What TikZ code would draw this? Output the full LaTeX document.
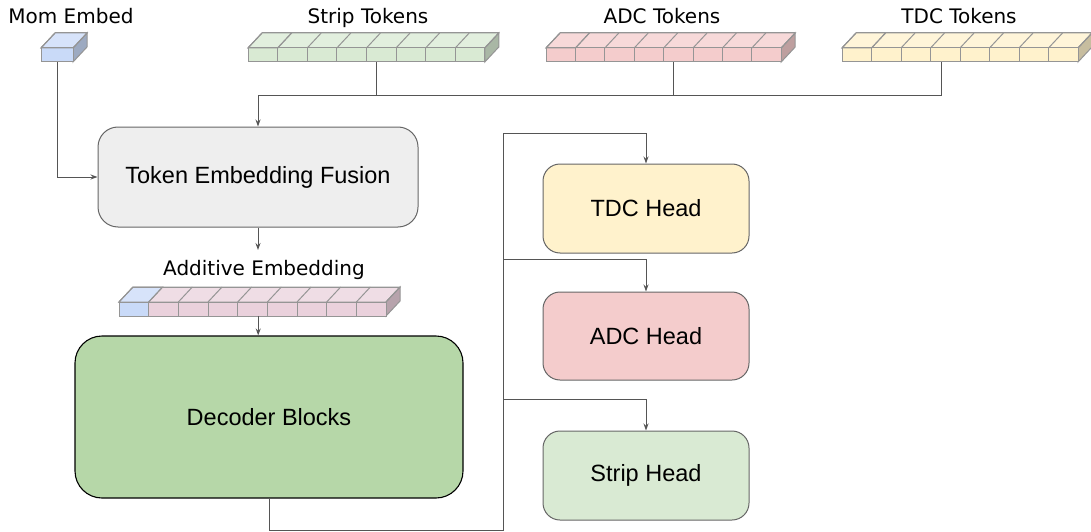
\documentclass[tikz,border=0pt]{standalone}
\usepackage{fontspec}
\setmainfont{Liberation Sans}
\newfontfamily\dvfont{DejaVu Sans}
\usetikzlibrary{arrows.meta}
\definecolor{momblue}{HTML}{C9DAF8}
\definecolor{stripgreen}{HTML}{D9EAD3}
\definecolor{adcpink}{HTML}{F4CCCC}
\definecolor{tdcyellow}{HTML}{FFF2CC}
\definecolor{addpink}{HTML}{EAD1DC}
\definecolor{tefgray}{HTML}{EEEEEE}
\definecolor{decgreen}{HTML}{B6D7A8}
\definecolor{edgegray}{HTML}{666666}
\definecolor{conngray}{HTML}{555555}
\definecolor{tokline}{HTML}{959595}
\tikzset{
  tokedge/.style={draw=tokline, line width=1pt},
  conn/.style={draw=conngray, line width=1pt},
  connarrow/.style={conn, -{Stealth[length=7pt,width=5pt]}},
  box/.style={draw=edgegray, line width=1pt, rounded corners=17pt, inner sep=0pt,
     font=\fontsize{23.5}{28}\selectfont, text=black},
  lbl/.style={font=\dvfont\fontsize{20}{24}\selectfont, anchor=base, inner sep=0pt, text=black}
}
% name, x0, y0 (top of front face), n cells, cell width, colour, first-cell colour
\newcommand{\tokbar}[7]{%
  \path[fill=#6!75!white, tokedge] (#2,#3) -- ++(14,-15) -- ++({#4*#5},0) -- ++(-14,15) -- cycle;
  \path[fill=#6!78!black, tokedge] ({#2+#4*#5},#3) -- ++(14,-15) -- ++(0,14) -- ++(-14,15) -- cycle;
  \path[fill=#6] (#2,#3) rectangle ++({#4*#5},14);
  \path[fill=#7] (#2,#3) rectangle ++(#5,14);
  \path[fill=#7!75!white, tokedge] (#2,#3) -- ++(14,-15) -- ++(#5,0) -- ++(-14,15) -- cycle;
  \foreach \i in {0,...,#4} {
    \draw[tokedge] ({#2+\i*#5},#3) -- ++(0,14);
    \draw[tokedge] ({#2+\i*#5},#3) -- ++(14,-15);
  }
  \draw[tokedge] (#2,#3) rectangle ++({#4*#5},14);
  \draw[tokedge] ({#2+14},{#3-15}) -- ++({#4*#5},0);
  \node[inner sep=0pt, minimum width={#4*#5}, minimum height=14, anchor=north west] (#1) at (#2,#3) {};
}
\begin{document}
\begin{tikzpicture}[x=1pt, y=-1pt]
\useasboundingbox (0,0) rectangle (1091,532);
\clip (0,0) rectangle (1091,532);

% top labels
\node[lbl] (lmom) at (71,24) {Mom Embed};
\node[lbl] (lstrip) at (368,24) {Strip Tokens};
\node[lbl] (ladc) at (662,24) {ADC Tokens};
\node[lbl] (ltdc) at (959,24) {TDC Tokens};

% token bars
\tokbar{mom}{41}{48}{1}{32}{momblue}{momblue}
\tokbar{strip}{248}{48}{8}{29.6}{stripgreen}{stripgreen}
\tokbar{adc}{546}{48}{8}{29.4}{adcpink}{adcpink}
\tokbar{tdc}{842}{48}{8}{29.5}{tdcyellow}{tdcyellow}

% fusion
\node[box, fill=tefgray, rounded corners=20pt, minimum width=320, minimum height=100] (tef) at (258,177) {Token Embedding Fusion};

% additive embedding
\node[lbl] (ladd) at (264,275) {Additive Embedding};
\tokbar{add}{119}{302}{9}{29.67}{addpink}{momblue}
\coordinate (addtop) at (258,250);

% decoder
\node[box, draw=black, line width=1.1pt, fill=decgreen, rounded corners=27pt, minimum width=388, minimum height=162] (dec) at (269,417) {Decoder Blocks};

% heads
\node[box, fill=tdcyellow, minimum width=206, minimum height=89] (tdch) at (646,208.5) {TDC Head};
\node[box, fill=adcpink, minimum width=206, minimum height=88] (adch) at (646,336) {ADC Head};
\node[box, fill=stripgreen, minimum width=206, minimum height=89] (striph) at (646,475.5) {Strip Head};

% connectors: inputs
\draw[connarrow] (mom.south) |- (tef.west);
\draw[connarrow] ([xshift=-19]tdc.south) -- ++(0,33) coordinate (busR) -| (tef.north);
\draw[conn] ([xshift=9.5]strip.south) |- (busR);
\draw[conn] ([xshift=9.5]adc.south) |- (busR);
\draw[connarrow] (tef.south) -- (addtop);
\draw[connarrow] ([xshift=5.5]add.south) -- ([xshift=5.5]add.south |- dec.north);

% connectors: outputs
\coordinate (trunkB) at (503,530);
\coordinate (trunkT) at (503,133);
\coordinate (brA) at (503,259);
\coordinate (brS) at (503,399);
\draw[connarrow] (dec.south) |- (trunkB) -- (trunkT) -| (tdch.north);
\draw[connarrow] (brA) -| (adch.north);
\draw[connarrow] (brS) -| (striph.north);
\end{tikzpicture}
\end{document}
